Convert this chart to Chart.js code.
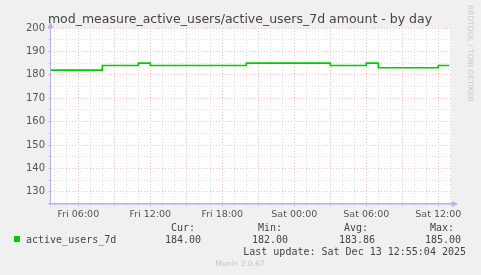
<!DOCTYPE html>
<html>
<head>
<meta charset="utf-8">
<script src="https://cdn.jsdelivr.net/npm/chart.js@4/dist/chart.umd.min.js"></script>
<style>
  html, body { margin: 0; padding: 0; background: #f0f0f0; }
  #wrap { width: 481px; height: 275px; }
</style>
</head>
<body>
<div id="wrap"><canvas id="usersChart" width="481" height="275"></canvas></div>
<script>
// hours counted from Fri 00:00, each point starts a new step
const stepHours = [3.64, 8, 11, 12, 20, 27, 30, 31, 36, 36.92];
const userValues = [182, 184, 185, 184, 185, 184, 185, 183, 184, 184];

// x tick labels
const labelHours = [6, 12, 18, 24, 30, 36];
const tickLabels = ["Fri 06:00", "Fri 12:00", "Fri 18:00", "Sat 00:00", "Sat 06:00", "Sat 12:00"];

// legend stats
const statNames = ["Cur:", "Min:", "Avg:", "Max:"];
const statValues = ["184.00", "182.00", "183.86", "185.00"];

const titleText = "mod_measure_active_users/active_users_7d amount - by day";
const seriesName = "active_users_7d";
const lastUpdate = "Last update: Sat Dec 13 12:55:04 2025";

const majorGrid = "rgba(240, 150, 150, 0.6)";
const minorGrid = "rgba(200, 200, 200, 0.6)";
const axisColor = "#b4b4ec";

// Background + decorations
const muninDecor = {
  id: "muninDecor",
  beforeDraw(chart) {
    const { ctx, chartArea: a } = chart;
    ctx.save();
    ctx.fillStyle = "#f0f0f0";
    ctx.fillRect(0, 0, chart.width, chart.height);
    ctx.fillStyle = "#ffffff";
    ctx.fillRect(a.left, a.top, a.right - a.left, a.bottom - a.top);
    ctx.restore();
  },
  afterDraw(chart) {
    const { ctx, chartArea: a } = chart;
    ctx.save();
    ctx.setLineDash([]);

    // axis lines + arrows (solid, over the dotted grid)
    ctx.strokeStyle = axisColor;
    ctx.lineWidth = 1;
    ctx.beginPath();
    ctx.moveTo(a.left + 0.5, a.bottom + 2);
    ctx.lineTo(a.left + 0.5, a.top - 2);
    ctx.moveTo(a.left - 2, a.bottom + 0.5);
    ctx.lineTo(a.right + 2, a.bottom + 0.5);
    ctx.stroke();
    ctx.fillStyle = axisColor;
    ctx.beginPath();
    ctx.moveTo(a.left + 0.5, a.top - 6);
    ctx.lineTo(a.left - 2.5, a.top);
    ctx.lineTo(a.left + 3.5, a.top);
    ctx.fill();
    ctx.beginPath();
    ctx.moveTo(a.right + 7, a.bottom + 0.5);
    ctx.lineTo(a.right + 1, a.bottom - 2.5);
    ctx.lineTo(a.right + 1, a.bottom + 3.5);
    ctx.fill();

    // title
    ctx.fillStyle = "#444";
    ctx.font = "12.5px 'DejaVu Sans'";
    ctx.textAlign = "center";
    ctx.textBaseline = "middle";
    ctx.fillText(titleText, 240, 20);

    // side text
    ctx.save();
    ctx.translate(470, 5);
    ctx.rotate(Math.PI / 2);
    ctx.fillStyle = "#c8c8c8";
    ctx.font = "7.5px 'DejaVu Sans'";
    ctx.textAlign = "left";
    ctx.textBaseline = "middle";
    ctx.fillText("RRDTOOL / TOBI OETIKER", 0, 0);
    ctx.restore();

    // legend
    ctx.font = "10px 'DejaVu Sans Mono'";
    ctx.fillStyle = "#444";
    ctx.textBaseline = "middle";
    ctx.textAlign = "right";
    const colRight = [195, 282, 368, 454];
    const valRight = [201, 288, 375, 461];
    statNames.forEach((n, i) => ctx.fillText(n, colRight[i], 228));
    statValues.forEach((v, i) => ctx.fillText(v, valRight[i], 240));
    ctx.fillText(lastUpdate, 466, 252);
    ctx.textAlign = "left";
    ctx.fillText(seriesName, 26, 240);
    ctx.fillStyle = "#00cc00";
    ctx.fillRect(14, 236, 6, 6);

    ctx.fillStyle = "#c4c4c4";
    ctx.font = "7.5px 'DejaVu Sans'";
    ctx.textAlign = "center";
    ctx.fillText("Munin 2.0.67", 240, 264);
    ctx.restore();
  }
};

const ctx = document.getElementById("usersChart").getContext("2d");
const chart = new Chart(ctx, {
  type: "line",
  data: {
    datasets: [{
      label: seriesName,
      data: stepHours.map((h, i) => ({ x: h, y: userValues[i] })),
      borderColor: "#00cc00",
      borderWidth: 1.6,
      pointRadius: 0,
      stepped: true,
      fill: false,
    }],
  },
  options: {
    responsive: false,
    animation: false,
    layout: { padding: { left: 0, top: 28, right: 30, bottom: 49.5 } },
    plugins: {
      legend: { display: false },
      tooltip: { enabled: false },
    },
    scales: {
      x: {
        type: "linear",
        min: 3.64,
        max: 37.06,
        afterBuildTicks(scale) {
          const ticks = [];
          for (let h = 4; h <= 37; h++) ticks.push({ value: h });
          scale.ticks = ticks;
        },
        afterFit(scale) { scale.height = 22; },
        grid: {
          color: (c) => (c.tick && c.tick.value % 3 === 0 ? majorGrid : minorGrid),
          tickLength: 3,
        },
        border: { color: axisColor, width: 1, dash: [1, 2] },
        ticks: {
          autoSkip: false,
          maxRotation: 0,
          padding: 2,
          color: "#555",
          font: { family: "DejaVu Sans", size: 9.5 },
          callback: (v) => {
            const i = labelHours.indexOf(v);
            return i >= 0 ? tickLabels[i] : "";
          },
        },
      },
      y: {
        min: 125,
        max: 200,
        afterBuildTicks(scale) {
          const ticks = [];
          for (let v = 125; v <= 200; v += 5) ticks.push({ value: v });
          scale.ticks = ticks;
        },
        afterFit(scale) { scale.width = 50; },
        grid: {
          color: (c) => (c.tick && c.tick.value % 10 === 0 ? majorGrid : minorGrid),
          tickLength: 2,
        },
        border: { color: axisColor, width: 1, dash: [1, 2] },
        ticks: {
          autoSkip: false,
          padding: 3,
          color: "#555",
          font: { family: "DejaVu Sans", size: 10 },
          callback: (v) => (v % 10 === 0 && v >= 130 ? String(v) : ""),
        },
      },
    },
  },
  plugins: [muninDecor],
});
</script>
</body>
</html>
